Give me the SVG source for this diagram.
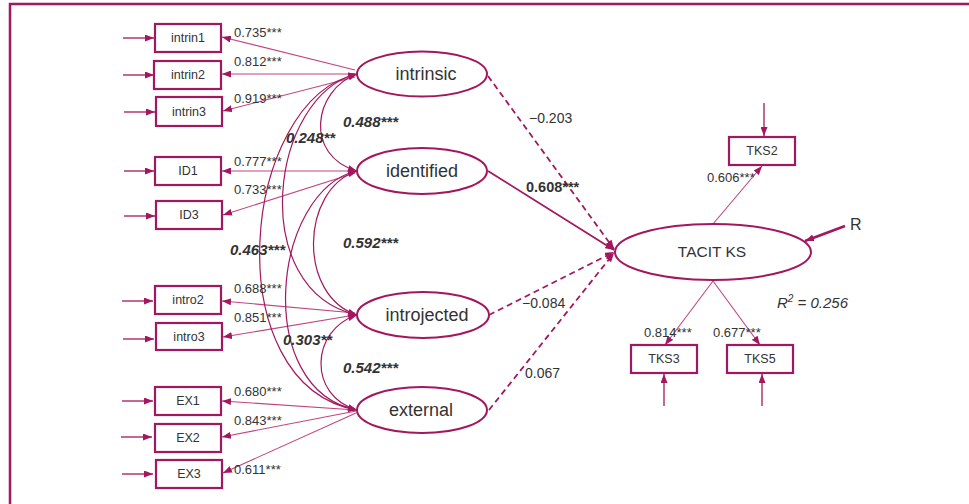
<svg xmlns="http://www.w3.org/2000/svg" width="969" height="504" viewBox="0 0 969 504">
  <style>
    .box { fill: #ffffff; stroke: #a3175f; stroke-width: 2.2; }
    .lat { fill: #ffffff; stroke: #a3175f; stroke-width: 2; }
    .lbl { font-family: "Liberation Sans", Arial, sans-serif; fill: #333333; }
    .ind { font-size: 12.5px; text-anchor: middle; }
    .latt { font-size: 18px; text-anchor: middle; }
    .ld { font-size: 13px; }
    .cov { font-size: 15px; font-weight: bold; font-style: italic; }
    .pc { font-size: 14px; }
    .load { stroke: #c0457f; stroke-width: 1.1; fill: none; marker-end: url(#ah); }
    .err { stroke: #a3175f; stroke-width: 1.3; fill: none; marker-end: url(#ah); }
    .arc { stroke: #a3175f; stroke-width: 1.2; fill: none; marker-start: url(#ah); marker-end: url(#ah); }
    .path { stroke: #a3175f; stroke-width: 1.8; fill: none; marker-end: url(#ah); }
    .dash { stroke-dasharray: 6 4; }
  </style>
  <defs>
    <marker id="ah" viewBox="0 0 10 10" refX="10" refY="5" markerWidth="9" markerHeight="7" markerUnits="userSpaceOnUse" orient="auto-start-reverse" preserveAspectRatio="none">
      <path d="M0,0 L10,5 L0,10 z" fill="#a3175f"/>
    </marker>
  </defs>

  <!-- frame -->
  <path d="M10,504 V4 H969" fill="none" stroke="#a3175f" stroke-width="2.5"/>

  <!-- connectors -->
  <g id="connectors">
    <!-- error terms into indicators -->
    <line class="err" x1="123" y1="38" x2="154" y2="38"/>
    <line class="err" x1="123" y1="75" x2="154" y2="75"/>
    <line class="err" x1="124" y1="112" x2="155" y2="112"/>
    <line class="err" x1="124" y1="171" x2="154" y2="171"/>
    <line class="err" x1="124" y1="216" x2="155" y2="216"/>
    <line class="err" x1="122" y1="301" x2="153" y2="301"/>
    <line class="err" x1="123" y1="339" x2="154" y2="339"/>
    <line class="err" x1="122" y1="401" x2="153" y2="401"/>
    <line class="err" x1="121" y1="437" x2="152" y2="437"/>
    <line class="err" x1="122" y1="474" x2="153" y2="474"/>
    <line class="err" x1="764" y1="103" x2="764" y2="136"/>
    <line class="err" x1="664" y1="406" x2="664" y2="374"/>
    <line class="err" x1="762" y1="406" x2="762" y2="374"/>
    <line class="err" x1="845" y1="226" x2="805" y2="241" style="stroke-width:2.6"/>

    <!-- factor loadings -->
    <line class="load" x1="355" y1="70" x2="222" y2="37"/>
    <line class="load" x1="355" y1="74" x2="222" y2="74"/>
    <line class="load" x1="355" y1="77" x2="223" y2="111"/>
    <line class="load" x1="355" y1="171" x2="222" y2="171"/>
    <line class="load" x1="355" y1="173" x2="223" y2="215"/>
    <line class="load" x1="355" y1="313" x2="222" y2="301"/>
    <line class="load" x1="355" y1="315" x2="223" y2="337"/>
    <line class="load" x1="356" y1="410" x2="222" y2="401"/>
    <line class="load" x1="356" y1="411" x2="222" y2="437"/>
    <line class="load" x1="356" y1="413" x2="223" y2="473"/>
    <line class="load" x1="713" y1="224" x2="762" y2="166"/>
    <line class="load" x1="713" y1="281" x2="665" y2="345"/>
    <line class="load" x1="713" y1="281" x2="760" y2="345"/>

    <!-- factor covariances -->
    <path class="arc" d="M357,74 C313,90 304,156 357,171"/>
    <path class="arc" d="M357,171 C300,190 298,296 357,315"/>
    <path class="arc" d="M357,315 C310,330 308,396 357,410"/>
    <path class="arc" d="M357,74 C270,95 246,290 357,315"/>
    <path class="arc" d="M357,171 C272,190 252,390 357,410"/>
    <path class="arc" d="M357,74 C240,100 215,385 357,410"/>

    <!-- structural paths -->
    <line class="path dash" x1="488" y1="76" x2="614" y2="249"/>
    <line class="path" x1="488" y1="171" x2="614" y2="250"/>
    <line class="path dash" x1="489" y1="315" x2="614" y2="252"/>
    <line class="path dash" x1="489" y1="410" x2="614" y2="253"/>
  </g>

  <!-- observed indicators -->
  <g id="intrin1"><rect class="box" x="155" y="24" width="66" height="28"/><text class="lbl ind" x="188" y="42">intrin1</text></g>
  <g id="intrin2"><rect class="box" x="154" y="61" width="67" height="28"/><text class="lbl ind" x="188" y="79">intrin2</text></g>
  <g id="intrin3"><rect class="box" x="156" y="97" width="66" height="29"/><text class="lbl ind" x="189" y="116">intrin3</text></g>
  <g id="ID1"><rect class="box" x="155" y="157" width="66" height="28"/><text class="lbl ind" x="188" y="175">ID1</text></g>
  <g id="ID3"><rect class="box" x="156" y="201" width="66" height="28"/><text class="lbl ind" x="189" y="219">ID3</text></g>
  <g id="intro2"><rect class="box" x="155" y="286" width="66" height="28"/><text class="lbl ind" x="188" y="304">intro2</text></g>
  <g id="intro3"><rect class="box" x="156" y="323" width="66" height="27"/><text class="lbl ind" x="189" y="341">intro3</text></g>
  <g id="EX1"><rect class="box" x="155" y="387" width="66" height="28"/><text class="lbl ind" x="188" y="405">EX1</text></g>
  <g id="EX2"><rect class="box" x="155" y="424" width="66" height="28"/><text class="lbl ind" x="188" y="442">EX2</text></g>
  <g id="EX3"><rect class="box" x="156" y="460" width="66" height="28"/><text class="lbl ind" x="189" y="478">EX3</text></g>
  <g id="TKS2"><rect class="box" x="729" y="137" width="66" height="28"/><text class="lbl ind" x="762" y="155">TKS2</text></g>
  <g id="TKS3"><rect class="box" x="631" y="345" width="66" height="28"/><text class="lbl ind" x="664" y="363">TKS3</text></g>
  <g id="TKS5"><rect class="box" x="727" y="345" width="66" height="28"/><text class="lbl ind" x="760" y="363">TKS5</text></g>

  <!-- latent constructs -->
  <g id="intrinsic"><ellipse class="lat" cx="422" cy="74" rx="65" ry="22.5"/><text class="lbl latt" x="426" y="80">intrinsic</text></g>
  <g id="identified"><ellipse class="lat" cx="422" cy="171" rx="65" ry="23"/><text class="lbl latt" x="422" y="177">identified</text></g>
  <g id="introjected"><ellipse class="lat" cx="423" cy="315" rx="66" ry="23"/><text class="lbl latt" x="427" y="321">introjected</text></g>
  <g id="external"><ellipse class="lat" cx="422" cy="410" rx="65" ry="23"/><text class="lbl latt" x="421" y="416">external</text></g>
  <g id="tacit"><ellipse class="lat" cx="713" cy="252" rx="98" ry="28"/><text class="lbl latt" x="712" y="257" style="font-size:15.5px">TACIT KS</text></g>

  <!-- residual label -->
  <text class="lbl" x="850" y="230" style="font-size:16px">R</text>

  <!-- loading estimates -->
  <g class="lbl ld">
    <text x="234" y="37">0.735***</text>
    <text x="234" y="66">0.812***</text>
    <text x="234" y="103">0.919***</text>
    <text x="234" y="166">0.777***</text>
    <text x="234" y="194">0.733***</text>
    <text x="234" y="293">0.688***</text>
    <text x="234" y="322">0.851***</text>
    <text x="234" y="396">0.680***</text>
    <text x="234" y="425">0.843***</text>
    <text x="234" y="474">0.611***</text>
    <text x="707" y="182">0.606***</text>
    <text x="644" y="337">0.814***</text>
    <text x="713" y="337">0.677***</text>
  </g>

  <!-- covariance estimates -->
  <g class="lbl cov">
    <text x="343" y="127">0.488***</text>
    <text x="286" y="143">0.248**</text>
    <text x="230" y="255">0.463***</text>
    <text x="343" y="248">0.592***</text>
    <text x="283" y="345">0.303**</text>
    <text x="343" y="373">0.542***</text>
  </g>

  <!-- path coefficients -->
  <g class="lbl pc">
    <text x="529" y="123">−0.203</text>
    <text x="526" y="192" style="font-weight:bold;font-size:14.5px">0.608***</text>
    <text x="522" y="308">−0.084</text>
    <text x="525" y="378">0.067</text>
  </g>

  <text class="lbl" x="777" y="308" style="font-size:15px;font-style:italic">R<tspan dy="-6" style="font-size:10px">2</tspan><tspan dy="6"> = 0.256</tspan></text>
</svg>
